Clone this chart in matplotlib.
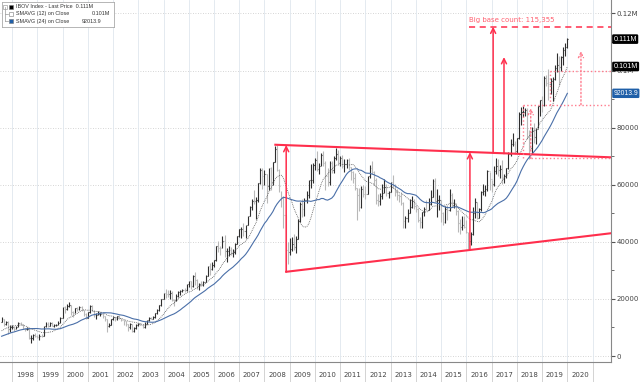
import numpy as np
import pandas as pd
import matplotlib
matplotlib.use('Agg')
import matplotlib.pyplot as plt
from matplotlib.ticker import FixedLocator, FuncFormatter

# monthly closes before the visible window (Aug 1995 - Jun 1997), thousands, only for the averages
pre_close = [4.46, 4.31, 3.92, 3.73, 4.30,
             5.09, 5.04, 5.25, 5.76, 6.29, 6.19, 6.01, 6.13, 6.34, 6.39, 6.45, 7.04,
             8.63, 9.43, 9.74, 10.18, 10.68, 11.89]

# visible months: Jul 1997 - Dec 2019, thousands of points
close = [12.87, 11.10, 11.86, 9.43, 10.17, 10.20,
         9.38, 10.33, 11.48, 11.10, 9.74, 9.32, 9.59, 6.31, 6.37, 7.40, 6.98, 6.78,
         7.00, 6.90, 10.41, 11.10, 10.59, 11.49, 10.62, 10.92, 11.00, 11.71, 13.39, 17.09,
         16.39, 17.66, 17.82, 15.54, 14.96, 16.73, 16.39, 17.18, 15.97, 14.74, 13.34, 15.26,
         17.67, 15.89, 14.43, 14.44, 14.65, 14.88, 13.90, 12.89, 10.63, 10.96, 12.88, 13.58,
         12.81, 14.03, 13.28, 12.52, 12.18, 11.14, 10.05, 11.08, 8.62, 9.97, 10.81, 11.27,
         10.94, 10.28, 11.27, 12.56, 13.42, 12.97, 13.57, 15.17, 16.01, 17.98, 19.96, 22.24,
         21.85, 21.76, 22.14, 19.61, 19.54, 21.15, 22.34, 22.80, 23.25, 23.05, 25.13, 26.20,
         24.35, 28.14, 26.61, 24.41, 25.21, 25.05, 26.04, 28.04, 31.58, 30.46, 31.92, 33.46,
         38.38, 38.00, 37.95, 40.37, 36.63, 36.63, 37.08, 36.23, 36.45, 39.26, 41.93, 44.47,
         44.64, 43.89, 45.80, 48.96, 52.27, 54.39, 54.18, 54.64, 60.47, 65.32, 63.01, 63.89,
         59.49, 66.00, 60.97, 67.87, 72.59, 65.02, 59.51, 55.68, 49.54, 37.26, 36.60, 37.55,
         39.30, 38.18, 40.93, 47.29, 53.20, 51.47, 54.77, 56.49, 61.52, 61.55, 67.04, 68.59,
         65.40, 66.50, 70.37, 67.53, 63.05, 60.94, 67.52, 65.15, 69.43, 70.67, 67.71, 69.30,
         66.57, 67.38, 68.59, 66.13, 64.62, 62.40, 58.82, 56.50, 52.32, 58.34, 56.87, 56.75,
         63.07, 66.00, 64.51, 61.82, 54.49, 54.36, 56.10, 57.06, 59.18, 57.07, 57.47, 60.95,
         59.76, 57.42, 56.35, 55.91, 53.51, 47.46, 48.23, 50.01, 52.34, 54.26, 52.48, 51.51,
         47.64, 47.09, 50.41, 51.63, 51.24, 53.17, 55.83, 61.29, 54.12, 54.63, 54.72, 50.01,
         46.91, 51.58, 51.15, 56.23, 52.76, 53.08, 50.86, 46.63, 45.06, 45.87, 45.12, 43.35,
         40.41, 42.79, 50.06, 53.91, 48.47, 51.53, 57.31, 57.90, 58.37, 64.92, 61.91, 60.23,
         64.67, 66.66, 64.98, 65.40, 62.71, 62.90, 65.92, 70.84, 74.29, 74.31, 71.97, 76.40,
         84.91, 85.35, 85.37, 86.12, 76.75, 72.76, 79.22, 76.68, 79.34, 87.42, 89.50, 87.89,
         97.39, 95.58, 95.41, 96.35, 97.03, 100.97, 101.81, 101.13, 104.75, 107.22, 108.23, 111.00]

high = [13.62, 12.90, 12.20, 12.30, 10.80, 10.70,
        10.60, 10.60, 11.80, 12.00, 11.30, 9.95, 10.10, 9.70, 7.30, 7.60, 7.90, 7.30,
        7.70, 7.80, 10.60, 11.90, 11.80, 11.80, 12.00, 11.20, 11.30, 12.20, 13.60, 17.10,
        17.60, 18.20, 18.95, 17.90, 15.80, 16.90, 17.30, 17.50, 17.40, 16.10, 15.00, 15.30,
        17.90, 17.80, 16.10, 14.90, 15.60, 15.30, 15.00, 14.00, 13.10, 11.40, 13.00, 13.80,
        13.80, 14.10, 14.40, 13.40, 12.60, 12.20, 11.20, 11.40, 11.20, 10.20, 11.20, 11.50,
        11.70, 11.20, 11.80, 12.60, 13.60, 13.80, 14.00, 15.20, 16.40, 17.98, 20.00, 22.24,
        23.50, 23.10, 23.00, 22.60, 19.90, 21.60, 22.70, 23.20, 23.50, 23.90, 25.20, 26.20,
        26.40, 28.20, 29.40, 27.10, 25.50, 26.30, 26.40, 28.50, 31.60, 32.50, 32.80, 33.70,
        38.40, 40.30, 38.50, 42.00, 42.40, 37.90, 38.40, 38.10, 37.50, 39.50, 42.20, 44.50,
        45.20, 46.50, 46.00, 49.00, 52.60, 54.90, 58.10, 55.80, 60.60, 65.80, 65.80, 65.20,
        63.90, 66.00, 66.20, 67.90, 73.50, 73.90, 65.50, 57.90, 55.90, 49.50, 40.00, 41.20,
        41.60, 42.90, 42.00, 47.90, 54.00, 55.00, 55.20, 57.90, 61.70, 67.20, 67.50, 69.40,
        71.70, 67.70, 71.00, 71.80, 68.40, 65.70, 68.20, 68.40, 70.10, 72.90, 72.00, 70.00,
        70.50, 68.90, 69.10, 69.30, 66.30, 64.90, 64.20, 59.00, 58.70, 59.40, 60.00, 59.50,
        63.10, 66.90, 68.40, 64.70, 62.20, 56.90, 57.20, 60.30, 62.10, 60.40, 57.70, 61.00,
        63.50, 60.20, 58.50, 56.80, 57.00, 54.00, 49.10, 51.50, 55.00, 56.00, 54.90, 52.70,
        51.90, 48.80, 50.60, 52.10, 54.70, 55.50, 58.20, 61.90, 62.30, 58.50, 56.30, 54.70,
        50.30, 52.50, 52.90, 58.60, 57.20, 54.90, 53.50, 51.00, 48.00, 48.90, 49.10, 47.80,
        43.40, 43.60, 52.20, 55.20, 54.00, 51.90, 57.70, 60.30, 60.00, 65.30, 64.30, 61.60,
        66.60, 69.50, 69.10, 66.80, 68.70, 63.70, 66.00, 71.40, 76.00, 78.00, 75.40, 76.40,
        85.50, 87.30, 87.70, 87.00, 86.80, 79.00, 80.30, 81.70, 80.00, 87.70, 89.80, 91.20,
        98.00, 98.60, 100.40, 97.50, 97.60, 102.00, 106.00, 105.00, 105.10, 108.40, 109.70, 111.30]

low = [12.00, 10.60, 10.80, 7.70, 8.50, 9.50,
       8.60, 9.30, 10.20, 10.80, 9.30, 8.70, 9.10, 6.10, 4.60, 5.70, 6.80, 6.30,
       5.60, 6.50, 6.90, 10.00, 10.00, 10.50, 10.40, 10.00, 10.40, 10.80, 11.70, 13.30,
       15.00, 16.00, 17.00, 14.50, 13.50, 14.90, 15.80, 16.20, 15.70, 13.90, 12.80, 13.20,
       15.20, 15.60, 13.80, 13.10, 14.30, 14.00, 13.30, 12.40, 8.40, 10.30, 10.80, 12.60,
       12.20, 12.60, 13.00, 12.20, 11.00, 10.60, 8.80, 9.60, 8.30, 8.40, 9.60, 10.50,
       10.70, 9.90, 9.90, 11.10, 12.40, 12.80, 12.80, 13.40, 14.80, 15.70, 17.60, 19.90,
       20.30, 20.60, 20.10, 19.40, 17.60, 19.10, 20.60, 21.50, 22.40, 22.30, 22.80, 24.30,
       23.50, 24.10, 25.00, 23.60, 23.20, 24.60, 24.50, 25.80, 27.90, 28.40, 30.00, 31.10,
       33.40, 36.50, 35.50, 37.90, 34.80, 32.90, 35.00, 35.40, 34.70, 35.80, 39.10, 41.60,
       41.40, 42.00, 41.30, 45.80, 48.90, 51.30, 53.30, 48.00, 53.80, 60.20, 58.50, 60.00,
       53.70, 58.20, 58.30, 60.00, 67.80, 64.80, 57.30, 52.30, 44.80, 29.40, 32.20, 35.30,
       36.80, 37.00, 36.20, 40.90, 46.80, 48.60, 49.10, 53.50, 55.50, 58.90, 60.60, 65.00,
       64.90, 63.70, 66.50, 66.50, 58.10, 59.50, 60.00, 64.10, 64.10, 68.60, 67.10, 66.40,
       66.00, 64.60, 66.00, 65.10, 61.50, 60.60, 58.10, 47.80, 50.80, 51.90, 55.60, 55.10,
       56.60, 62.50, 63.80, 59.90, 53.20, 52.50, 52.90, 55.00, 57.20, 56.20, 55.50, 57.30,
       59.00, 56.20, 54.80, 53.80, 52.80, 45.00, 45.00, 47.10, 50.00, 52.00, 51.50, 50.30,
       47.00, 44.90, 44.90, 49.10, 51.00, 51.10, 52.80, 55.70, 53.80, 48.70, 51.00, 47.00,
       46.00, 46.60, 47.80, 50.90, 52.30, 51.70, 49.50, 43.60, 42.80, 44.10, 44.80, 43.00,
       37.50, 39.00, 42.50, 48.50, 48.00, 48.50, 50.90, 56.50, 56.10, 57.80, 58.20, 57.50,
       59.60, 63.60, 62.90, 62.40, 60.30, 60.60, 62.30, 65.60, 70.20, 73.40, 70.60, 71.00,
       76.10, 81.00, 83.70, 84.20, 76.00, 68.90, 71.20, 74.60, 74.20, 79.70, 84.10, 85.30,
       87.50, 94.50, 89.50, 91.70, 89.40, 96.80, 99.50, 94.80, 99.80, 102.00, 105.00, 107.80]

years = list(range(1998, 2021))
legend_rows = [('IBOV Index - Last Price', '0.111M', '#000000'),
               ('SMAVG (12) on Close', '0.101M', '#ffffff'),
               ('SMAVG (24) on Close', '92013.9', '#1f5fa8')]
base_count = 115355

RED = '#ff2e4c'
PINK = '#ff7a8c'
NARROW = ['Liberation Sans', 'DejaVu Sans']

# ---------------------------------------------------------------
all_close = pd.Series(pre_close + close) * 1000
sma12 = all_close.rolling(12).mean().values[len(pre_close):]
sma24 = all_close.rolling(24).mean().values[len(pre_close):]

c = np.array(close) * 1000
h = np.array(high) * 1000
l = np.array(low) * 1000
o = np.concatenate([[pre_close[-1] * 1000], c[:-1]])
t = 1997.5 + np.arange(1, len(c) + 1) / 12.0   # month ends from Jul 1997

fig = plt.figure(figsize=(6.4, 3.82), dpi=100)
ax = fig.add_axes([0, 1 - 362 / 382, 611 / 640, 362 / 382])
x0, x1 = 1997.52, 2021.73
ax.set_xlim(x0, x1)
ax.set_ylim(-2100, 124700)

# grid
for y in range(0, 120001, 20000):
    ax.axhline(y, color='#c8c8c8', lw=0.6, ls=(0, (1, 2)), zorder=0)
for yr in years + [2021]:
    ax.axvline(yr, color='#dfe7ee', lw=0.6, zorder=0)

# OHLC bars
up = c >= o
cols = np.where(up, '#2e2e2e', '#b8b8b8')
w = 0.028
ax.vlines(t, l, h, colors=cols, lw=0.8, zorder=2)
ax.hlines(o, t - w, t, colors=cols, lw=0.8, zorder=2)
ax.hlines(c, t, t + w, colors=cols, lw=0.8, zorder=2)

ax.plot(t, sma12, color='#555555', lw=0.6, ls=(0, (1, 1.2)), zorder=3)
ax.plot(t, sma24, color='#4a6fa8', lw=0.8, zorder=3)

# triangle / base
ax.plot([2008.43, x1], [74000, 69600], color=RED, lw=1.5, zorder=4)
ax.plot([2008.86, x1], [29500, 43000], color=RED, lw=1.5, zorder=4)

def arrow(x, y0, y1, ls='-', col=RED, lw=1.1):
    ax.annotate('', xy=(x, y1), xytext=(x, y0),
                arrowprops=dict(arrowstyle='->', color=col, lw=lw, ls=ls,
                                shrinkA=0, shrinkB=0, mutation_scale=9), zorder=5)

arrow(2008.86, 29500, 73900)
arrow(2016.14, 37200, 71400)
arrow(2017.06, 71100, base_count)
arrow(2017.49, 70900, 104700)

ax.plot([2016.09, x1], [base_count, base_count], color=RED, lw=1.1, ls=(0, (4, 3)), zorder=4)
ax.text(2016.09, base_count + 1300, 'Big base count: 115,355', color='#ff6070',
        fontsize=5, va='bottom', ha='left')

# smaller projection (dotted)
ax.plot([2018.55, x1], [69200, 69200], color=PINK, lw=1.0, ls=':', zorder=4)
ax.plot([2018.23, x1], [88000, 88000], color=PINK, lw=1.0, ls=':', zorder=4)
ax.plot([2019.30, x1], [100000, 100000], color=PINK, lw=1.0, ls=':', zorder=4)
ax.plot([2018.23, 2018.23], [69200, 88000], color=PINK, lw=1.0, ls=':', zorder=4)
ax.plot([2019.30, 2019.30], [88000, 100000], color=PINK, lw=1.0, ls=':', zorder=4)
arrow(2018.55, 69200, 86800, ls=':', col=PINK, lw=1.0)
arrow(2020.54, 88000, 106800, ls=':', col=PINK, lw=1.0)

# axes styling
for s in ['left', 'top']:
    ax.spines[s].set_visible(False)
for s in ['right', 'bottom']:
    ax.spines[s].set_color('#888888')
    ax.spines[s].set_linewidth(0.8)

ax.yaxis.tick_right()
ax.yaxis.set_major_locator(FixedLocator(range(0, 120001, 20000)))
ax.yaxis.set_minor_locator(FixedLocator(range(10000, 120001, 20000)))
ax.yaxis.set_major_formatter(FuncFormatter(
    lambda v, p: f'{v / 1e6:g}M' if v >= 100000 else f'{int(v)}'))
ax.tick_params(axis='y', which='major', length=3, width=0.8, color='#555555',
               labelsize=5, labelcolor='#444444', pad=1)
ax.tick_params(axis='y', which='minor', length=2, width=0.6, color='#555555')

ax.xaxis.set_major_locator(FixedLocator(years + [2021]))
ax.xaxis.set_minor_locator(FixedLocator([y + 0.5 for y in years]))
ax.xaxis.set_major_formatter(FuncFormatter(lambda v, p: ''))
ax.xaxis.set_minor_formatter(FuncFormatter(lambda v, p: str(int(v))))
ax.tick_params(axis='x', which='major', length=15, width=0.6, color='#cccccc')
ax.tick_params(axis='x', which='minor', length=0, labelsize=5, labelcolor='#444444', pad=7)

# right-hand value tags
tr = ax.get_yaxis_transform()
for val, txt, fc, fs in [(111000, '0.111M', '#000000', 5.2), (101400, '0.101M', '#000000', 5.2),
                         (92013.9, '92013.9', '#1f5fa8', 4.9)]:
    ax.text(1.004, val, txt, transform=tr, color='white', fontsize=fs, va='center',
            ha='left', clip_on=False, family=NARROW,
            bbox=dict(boxstyle='round,pad=0.18', fc=fc, ec='none'), zorder=10)

# legend box
leg = fig.add_axes([2 / 640, 1 - 27 / 382, 112 / 640, 25 / 382])
leg.set_xlim(0, 112)
leg.set_ylim(25, 0)
leg.set_xticks([])
leg.set_yticks([])
for s in leg.spines.values():
    s.set_color('#aaaaaa')
    s.set_linewidth(0.6)
leg.plot([3.5, 3.5], [5, 18.7], color='#999999', lw=0.5)
for i, (name, val, col) in enumerate(legend_rows):
    yy = 4.5 + i * 7.3
    if i > 0:
        leg.plot([3.5, 6.5], [yy, yy], color='#999999', lw=0.5)
    leg.add_patch(plt.Rectangle((7, yy - 2), 4.2, 4.2, fc=col, ec='#777777', lw=0.4))
    if i == 0:
        leg.text(14, yy, name + '  ' + val, fontsize=3.9, va='center', ha='left',
                 color='#333333', family=NARROW)
    else:
        leg.text(14, yy, name, fontsize=3.9, va='center', ha='left', color='#333333',
                 family=NARROW)
        leg.text(108 if i == 1 else 99, yy, val, fontsize=3.9, va='center', ha='right',
                 color='#333333', family=NARROW)
leg.add_patch(plt.Rectangle((1.5, 2.5), 4, 4, fc='white', ec='#888888', lw=0.4))

fig.savefig('out.png', dpi=100)
